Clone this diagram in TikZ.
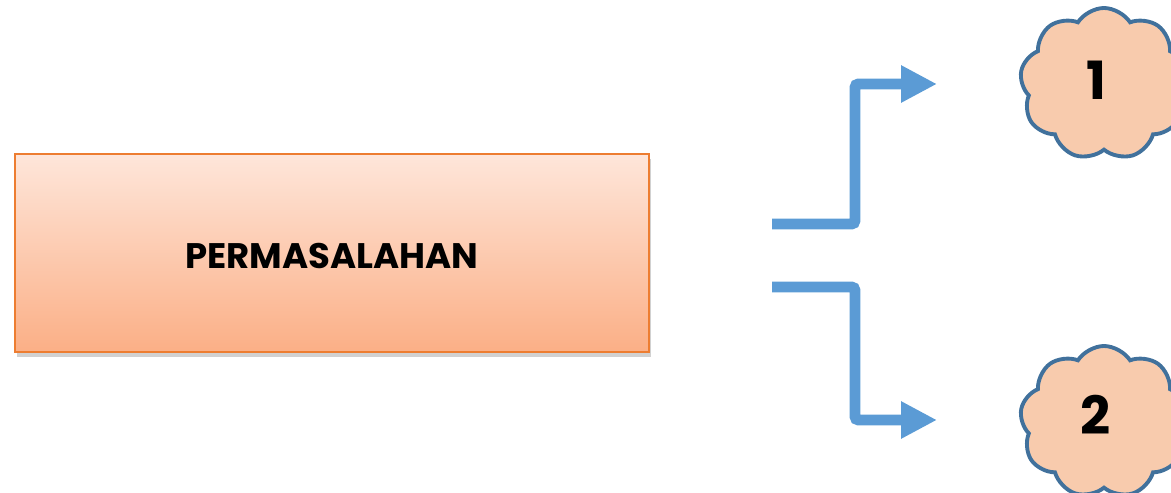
\documentclass[tikz,border=0pt]{standalone}
\usepackage{fontspec}
\setmainfont{Poppins}
\usetikzlibrary{arrows.meta,shapes.symbols,shadows}
\definecolor{boxtop}{HTML}{FEE6DA}
\definecolor{boxbot}{HTML}{FBAF86}
\definecolor{boxline}{HTML}{ED7D31}
\definecolor{arrowblue}{HTML}{5B9BD5}
\definecolor{cloudfill}{HTML}{F8CBAD}
\definecolor{cloudline}{HTML}{41719C}
\tikzset{
  probbox/.style={draw=boxline, line width=1pt, top color=boxtop, bottom color=boxbot,
    minimum width=634*0.02cm, minimum height=198*0.02cm, inner sep=0pt,
    drop shadow={shadow xshift=1pt, shadow yshift=-3pt, opacity=0.3, fill=black!60}},
  cloudnode/.style={cloud, cloud puffs=9, cloud puff arc=115, aspect=1.1,
    draw=cloudline, line width=2.2pt, fill=cloudfill,
    minimum width=168*0.02cm, minimum height=152*0.02cm, inner sep=0pt},
  flow/.style={draw=arrowblue, line width=6.2pt, rounded corners=2pt,
    -{Triangle[length=20.4pt,width=19.8pt]}},
}
\begin{document}
\begin{tikzpicture}[x=0.02cm,y=-0.02cm]
\useasboundingbox (0,0) rectangle (1171,493);
\node[probbox] (prob) at (332,253) {};
\node (label) at (332,256) {\fontsize{20.2}{24}\selectfont\bfseries PERMASALAHAN};
\node[cloudnode] (c1) at (1104,84) {};
\node[cloudnode] (c2) at (1104,422) {};
\node at (1096,80) {\fontsize{30}{34}\selectfont\bfseries 1};
\node at (1096,415) {\fontsize{30}{34}\selectfont\bfseries 2};
\coordinate (s1) at (772,224);
\coordinate (e1) at (937,84);
\coordinate (s2) at (772,287);
\coordinate (e2) at (937,420);
\draw[flow] (s1) -- (855,224) -- (855,84) -- (e1);
\draw[flow] (s2) -- (855,287) -- (855,420) -- (e2);
\end{tikzpicture}
\end{document}
